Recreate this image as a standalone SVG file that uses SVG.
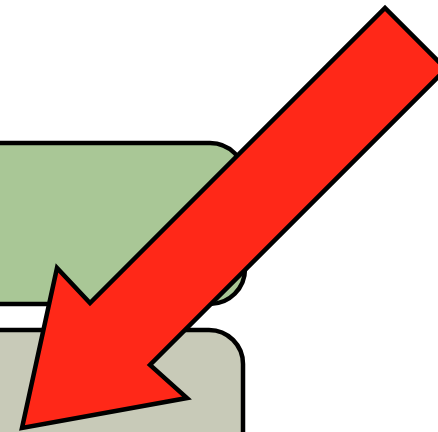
<svg xmlns="http://www.w3.org/2000/svg" width="438" height="432" viewBox="0 0 438 432">
<style>
.box{stroke:#000;stroke-width:4.5}
.arrow{fill:#FF2818;stroke:#000;stroke-width:4.5;stroke-linejoin:miter}
</style>
<rect width="438" height="432" fill="#fff"/>
<g id="box-green"><rect class="box" x="-40" y="143" width="285" height="161" rx="35" fill="#A9C796"/></g>
<g id="box-gray"><rect class="box" x="-40" y="330" width="283" height="160" rx="34" fill="#C8CAB8"/></g>
<g id="connectors"><polygon class="arrow" points="22,428 57,268 90,303 385,8 446,69 150,365 187,398"/></g>
</svg>
